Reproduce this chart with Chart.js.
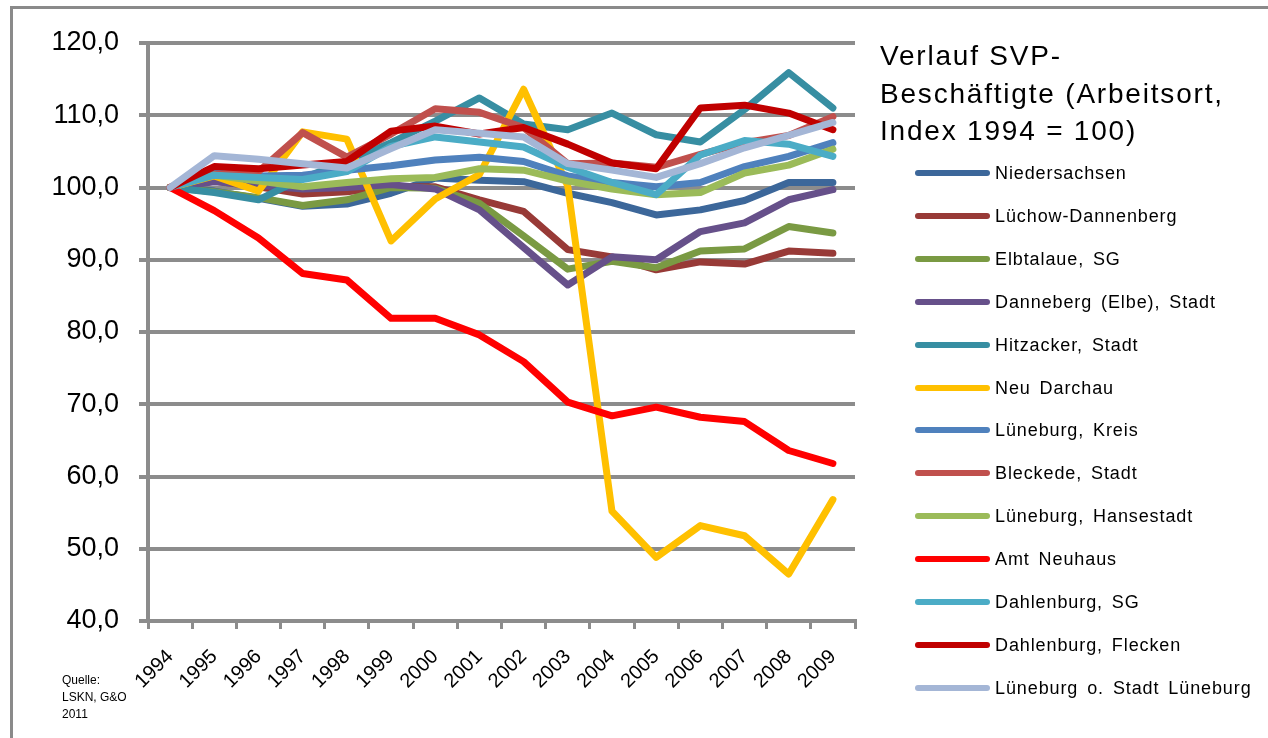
<!DOCTYPE html>
<html>
<head>
<meta charset="utf-8">
<script src="https://cdn.jsdelivr.net/npm/chart.js@4.4.1/dist/chart.umd.min.js"></script>
<style>
  html, body { margin: 0; padding: 0; background: #fff; overflow: hidden; }
  body { width: 1268px; height: 738px; position: relative; font-family: "Liberation Sans", Arial, sans-serif; }
  #frame { position: absolute; left: 10px; top: 6px; width: 1300px; height: 800px; border: 3px solid #8a8a8a; box-sizing: border-box; }
  #wrap { position: absolute; left: 0; top: 0; width: 1268px; height: 738px; }
  #title { position: absolute; left: 880px; top: 37px; font-size: 28px; line-height: 37.5px; letter-spacing: 1.8px; color: #000; white-space: nowrap; }
  .lg { position: absolute; left: 915px; height: 20px; white-space: nowrap; }
  .lg .sw { position: absolute; left: 0; top: 7px; width: 75px; height: 6px; border-radius: 3px; }
  .lg .tx { position: absolute; left: 80px; top: -1px; font-size: 18px; line-height: 22px; letter-spacing: 0.9px; word-spacing: 3px; color: #000; }
  #src { position: absolute; left: 62px; top: 672px; font-size: 12px; line-height: 17px; color: #000; }
</style>
</head>
<body>
<div id="frame"></div>
<div id="wrap"><canvas id="c" width="1268" height="738"></canvas></div>
<div id="title">Verlauf SVP-<br>Beschäftigte (Arbeitsort,<br>Index 1994 = 100)</div>
<div id="legend"></div>
<div id="src">Quelle:<br>LSKN, G&amp;O<br>2011</div>
<script>
const years = ["1994","1995","1996","1997","1998","1999","2000","2001","2002","2003","2004","2005","2006","2007","2008","2009"];
const yTicks = [40, 50, 60, 70, 80, 90, 100, 110, 120];

const seriesNames = [
  "Niedersachsen",
  "Lüchow-Dannenberg",
  "Elbtalaue,  SG",
  "Danneberg  (Elbe),  Stadt",
  "Hitzacker, Stadt",
  "Neu Darchau",
  "Lüneburg,  Kreis",
  "Bleckede,  Stadt",
  "Lüneburg,  Hansestadt",
  "Amt Neuhaus",
  "Dahlenburg,  SG",
  "Dahlenburg,  Flecken",
  "Lüneburg  o. Stadt  Lüneburg"
];

const niedersachsen     = [100, 99.5, 98.5, 97.4, 97.7, 99.2, 101.3, 101.0, 100.8, 99.2, 97.9, 96.2, 96.9, 98.2, 100.7, 100.7];
const luechowDannenberg = [100, 100.9, 100.1, 99.1, 99.4, 100.1, 100.1, 98.3, 96.7, 91.4, 90.4, 88.6, 89.7, 89.4, 91.2, 90.9];
const elbtalaue         = [100, 99.4, 98.6, 97.5, 98.3, 100.0, 99.9, 97.8, 93.3, 88.7, 89.8, 88.9, 91.2, 91.5, 94.6, 93.7];
const danneberg         = [100, 100.8, 100.3, 99.8, 100.0, 100.4, 99.8, 96.9, 91.7, 86.5, 90.4, 90.0, 93.9, 95.1, 98.3, 99.7];
const hitzacker         = [100, 99.3, 98.3, 101.3, 103.6, 106.2, 109.2, 112.4, 108.8, 108.0, 110.3, 107.3, 106.3, 110.8, 115.9, 111.0];
const neuDarchau        = [100, 101.6, 99.5, 107.7, 106.7, 92.6, 98.4, 101.8, 113.6, 100.2, 55.2, 48.8, 53.2, 51.8, 46.5, 56.8];
const lueneburgKreis    = [100, 102.0, 101.6, 101.7, 102.4, 103.0, 103.8, 104.2, 103.6, 101.6, 100.7, 100.1, 100.7, 102.9, 104.3, 106.2];
const bleckede          = [100, 101.8, 102.2, 107.6, 104.2, 107.4, 110.9, 110.4, 108.3, 103.3, 103.4, 102.8, 104.6, 106.2, 107.2, 109.8];
const lueneburgHanse    = [100, 101.7, 100.9, 100.1, 100.7, 101.2, 101.4, 102.6, 102.4, 100.9, 99.8, 99.0, 99.3, 102.0, 103.1, 105.3];
const amtNeuhaus        = [100, 96.8, 93.0, 88.1, 87.2, 81.9, 81.9, 79.6, 75.9, 70.3, 68.4, 69.6, 68.2, 67.6, 63.6, 61.8];
const dahlenburgSG      = [100, 101.7, 101.4, 101.1, 102.2, 105.7, 107.0, 106.3, 105.6, 102.8, 100.7, 99.0, 104.5, 106.5, 106.0, 104.3];
const dahlenburgFlecken = [100, 102.9, 102.6, 103.1, 103.6, 107.8, 108.5, 107.4, 108.3, 106.0, 103.4, 102.6, 111.0, 111.4, 110.3, 108.0];
const lueneburgOhne     = [100, 104.4, 103.9, 103.3, 102.7, 105.4, 108.0, 107.5, 107.0, 103.3, 102.4, 101.4, 103.3, 105.5, 107.2, 109.0];

const seriesValues = [niedersachsen, luechowDannenberg, elbtalaue, danneberg, hitzacker, neuDarchau,
  lueneburgKreis, bleckede, lueneburgHanse, amtNeuhaus, dahlenburgSG, dahlenburgFlecken, lueneburgOhne];
const seriesColors = ["#3C679A", "#983A37", "#7A9A43", "#66508A", "#378EA2", "#FFC000",
  "#4F81BD", "#C0504D", "#9BBB59", "#FF0000", "#4BACC6", "#C00000", "#A4B6D6"];

const n = seriesNames.length;
const datasets = seriesNames.map((name, i) => ({
  label: name,
  data: seriesValues[i],
  borderColor: seriesColors[i],
  backgroundColor: seriesColors[i],
  borderWidth: 7,
  pointRadius: 0,
  pointHoverRadius: 0,
  tension: 0,
  borderJoinStyle: 'round',
  borderCapStyle: 'round',
  order: n - i
}));

const gridColor = '#8c8c8c';
new Chart(document.getElementById('c'), {
  type: 'line',
  data: { labels: years, datasets },
  options: {
    responsive: false,
    animation: false,
    layout: { padding: { left: 0, top: 43, right: 413, bottom: 0 } },
    plugins: { legend: { display: false }, title: { display: false }, tooltip: { enabled: false } },
    scales: {
      x: {
        type: 'category',
        offset: true,
        grid: { display: true, drawOnChartArea: false, offset: true, tickLength: 8, color: gridColor, lineWidth: 3 },
        border: { display: true, color: gridColor, width: 4 },
        ticks: {
          autoSkip: false, minRotation: 45, maxRotation: 45, padding: 16,
          color: '#000', font: { family: '"Liberation Sans", Arial, sans-serif', size: 20 }
        },
        afterFit: (s) => { s.height = 117; }
      },
      y: {
        min: 40, max: 120,
        afterBuildTicks: (s) => { s.ticks = yTicks.map(v => ({ value: v })); },
        grid: { color: gridColor, lineWidth: 4, tickLength: 9 },
        border: { display: true, color: gridColor, width: 4 },
        ticks: {
          padding: 20, color: '#000',
          font: { family: '"Liberation Sans", Arial, sans-serif', size: 27 },
          callback: (v) => Number(v).toFixed(1).replace('.', ',')
        },
        afterFit: (s) => { s.width = 148; }
      }
    }
  }
});

// Legend built from the series arrays
const lg = document.getElementById('legend');
seriesNames.forEach((name, i) => {
  const row = document.createElement('div');
  row.className = 'lg';
  row.style.top = (163 + i * 42.9) + 'px';
  const sw = document.createElement('span');
  sw.className = 'sw';
  sw.style.background = seriesColors[i];
  const tx = document.createElement('span');
  tx.className = 'tx';
  tx.textContent = name.replace(/  /g, ' ');
  row.appendChild(sw); row.appendChild(tx);
  lg.appendChild(row);
});
</script>
</body>
</html>
